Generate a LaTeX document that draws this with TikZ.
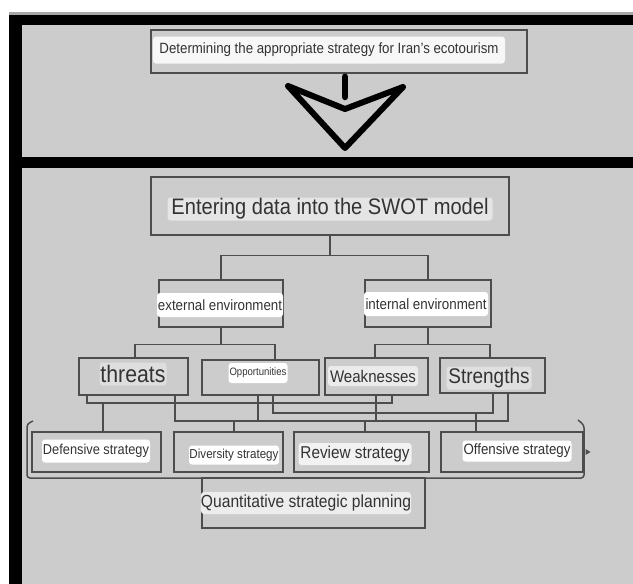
\documentclass[tikz,border=0pt]{standalone}
\usepackage{fontspec}
\setmainfont{Liberation Sans}
\usepackage{graphicx}
\usetikzlibrary{calc}
\definecolor{bg}{HTML}{CCCCCC}
\definecolor{edge}{HTML}{4D4D4D}
\definecolor{ink}{HTML}{333333}
\newcommand{\fitw}[2]{\scalebox{1}[1.12]{\resizebox{#1pt}{!}{#2}}}
\begin{document}
\begin{tikzpicture}[x=1pt,y=-1pt,
  box/.style={draw=edge,line width=1.5pt,inner sep=0pt,rectangle},
  lab/.style={rectangle,rounded corners=3pt,inner sep=0pt,text=ink,font=\fontsize{12}{14}\selectfont},
  conn/.style={draw=edge,line width=1.2pt}]
\useasboundingbox (0,0) rectangle (633,584);
% background and frame
\fill[white] (0,0) rectangle (633,584);
\fill[bg] (9,12) rectangle (633,584);
\fill[gray!70] (9,12) rectangle (633,14.5);
\fill[black] (9,14.5) rectangle (633,25);
\fill[black] (9,14.5) rectangle (22,584);
\fill[black] (9,157) rectangle (633,168);
% boxes
\node[box,minimum width=376pt,minimum height=43pt] (top) at (339,51.5) {};
\node[box,minimum width=358pt,minimum height=58pt] (swot) at (330,206) {};
\node[box,minimum width=124pt,minimum height=47pt] (ext) at (221,303.5) {};
\node[box,minimum width=126pt,minimum height=47pt] (int) at (428,303.5) {};
\node[box,minimum width=109pt,minimum height=37pt] (threats) at (133.5,376.5) {};
\node[box,minimum width=117pt,minimum height=35pt] (opp) at (260.5,377.5) {};
\node[box,minimum width=103pt,minimum height=37pt] (weak) at (376.5,376.5) {};
\node[box,minimum width=105pt,minimum height=35pt] (str) at (492.5,375.5) {};
\node[box,minimum width=129pt,minimum height=40pt] (def) at (96.5,452) {};
\node[box,minimum width=109pt,minimum height=40pt] (div) at (228.5,452) {};
\node[box,minimum width=135pt,minimum height=40pt] (rev) at (361.5,452) {};
\node[box,minimum width=142pt,minimum height=40pt] (off) at (512,452) {};
\node[box,minimum width=223pt,minimum height=50pt] (quant) at (313.5,503) {};
% arrow symbol
\draw[line width=6.5pt,line cap=round] (top.south -| 345,0) ++(0,3) -- (345,97);
\draw[line width=6pt,line join=round] (288,86) -- (345,109) -- (403,87) -- (345,148) -- cycle;
% tree connectors
\draw[conn] (swot.south) -- ++(0,20) coordinate (j1);
\draw[conn] (ext.north) |- (j1) -| (int.north);
\draw[conn] (ext.south) -- ++(0,17) coordinate (j2);
\draw[conn] (threats.north -| 135,0) |- (j2) -| (opp.north -| 275,0);
\draw[conn] (int.south) -- ++(0,17) coordinate (j3);
\draw[conn] (weak.north -| 375,0) |- (j3) -| (str.north -| 490,0);
% line A (WT)
\draw[conn] (threats.south -| 87,0) -- (87,403) -- (392,403) -- (weak.south -| 392,0);
\draw[conn] (103,403) -- (def.north -| 103,0);
% line B (SO)
\draw[conn] (opp.south -| 273,0) -- (273,413) -- (493,413) -- (str.south -| 493,0);
\draw[conn] (476,413) -- (off.north -| 476,0);
% line C
\draw[conn] (threats.south -| 175,0) -- (175,421) -- (508,421) -- (str.south -| 508,0);
\draw[conn] (opp.south -| 258,0) -- (258,421);
\draw[conn] (weak.south -| 376,0) -- (376,421);
\draw[conn] (234,421) -- (div.north -| 234,0);
\draw[conn] (365,421) -- (rev.north -| 365,0);
% bracket around strategies
\draw[conn,line width=1.5pt,rounded corners=3pt] (33,421) -- (27,424) -- (27,478) -- (584,478) -- (584,425) -- (578,420);
\fill[edge] (585.5,449) -- (590.5,452) -- (585.5,455) -- cycle;
% labels
\node[lab,fill=white!97!black,minimum width=352pt,minimum height=27pt] (toplab) at (329,50) {\fitw{339}{Determining the appropriate strategy for Iran's ecotourism}};
\node[lab,fill=white!90!black,minimum width=325pt,minimum height=23pt] (swotlab) at (330,209) {\fitw{317}{Entering data into the SWOT model}};
\node[lab,fill=white,minimum width=126pt,minimum height=24pt] (extlab) at (220,305) {\fitw{124}{external environment}};
\node[lab,fill=white,minimum width=124pt,minimum height=24pt] (intlab) at (426,304) {\fitw{121}{internal environment}};
\node[lab,fill=white!87!black,minimum width=67pt,minimum height=23pt] (thrlab) at (133,374) {\fitw{65}{threats}};
\node[lab,fill=white,minimum width=59pt,minimum height=20pt] (opplab) at (258,373) {\fitw{57}{Opportunities}};
\node[lab,fill=white!92!black,minimum width=90pt,minimum height=20pt] (weaklab) at (373,376) {\fitw{86}{Weaknesses}};
\node[lab,fill=white!88!black,minimum width=85pt,minimum height=23pt] (strlab) at (489,378) {\fitw{81}{Strengths}};
\node[lab,fill=white,minimum width=108pt,minimum height=23pt] (deflab) at (96,451) {\fitw{106}{Defensive strategy}};
\node[lab,fill=white,minimum width=90pt,minimum height=19pt] (divlab) at (234,455) {\fitw{89}{Diversity strategy}};
\node[lab,fill=white!95!black,minimum width=113pt,minimum height=22pt] (revlab) at (355,454) {\fitw{109}{Review strategy}};
\node[lab,fill=white,minimum width=109pt,minimum height=21pt] (offlab) at (517,451) {\fitw{107}{Offensive strategy}};
\node[lab,fill=white!93!black,minimum width=204pt,minimum height=22pt] (quantlab) at (306,503) {\fitw{210}{Quantitative strategic planning}};
\end{tikzpicture}
\end{document}
